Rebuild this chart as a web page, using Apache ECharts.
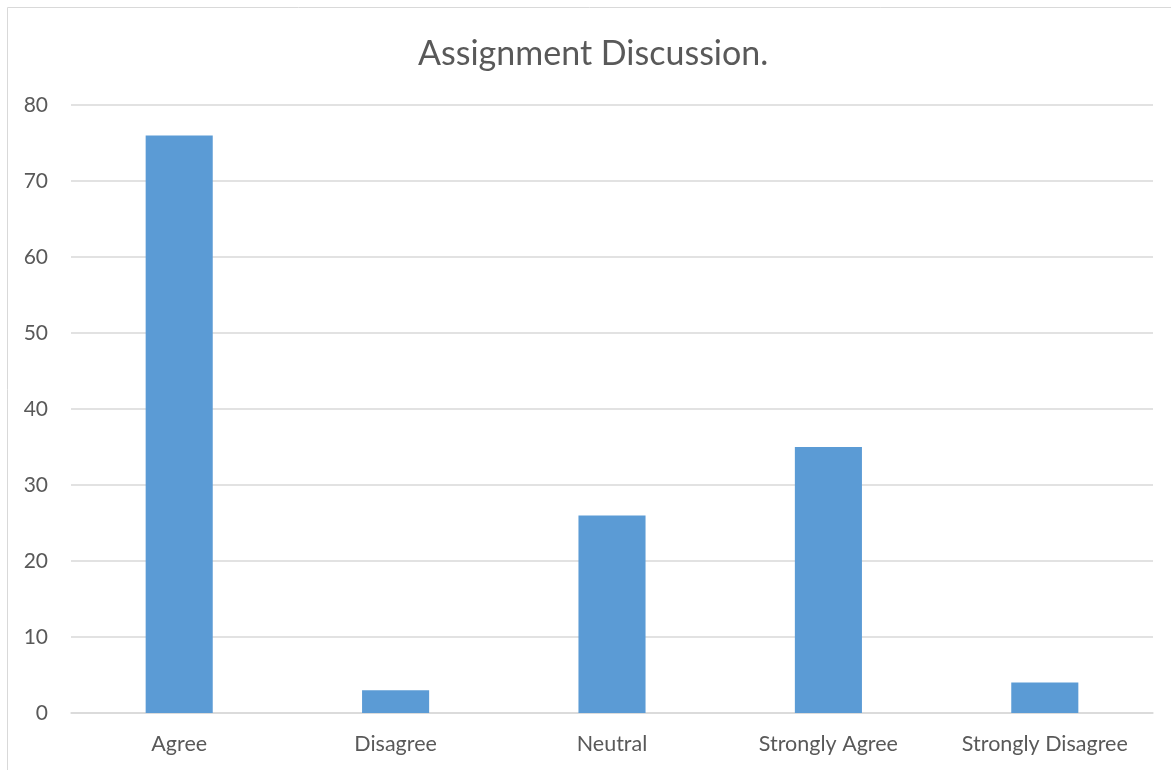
<!DOCTYPE html>
<html><head><meta charset="utf-8">
<script src="https://cdn.jsdelivr.net/npm/echarts@6/dist/echarts.min.js"></script>
<style>html,body{margin:0;padding:0;background:#fff}#c{width:1171px;height:770px}</style>
</head><body><div id="c"></div>
<script>
const categories = ["Agree", "Disagree", "Neutral", "Strongly Agree", "Strongly Disagree"];
const values = [76, 3, 26, 35, 4];
const yTicks = [0, 10, 20, 30, 40, 50, 60, 70, 80];
const chart = echarts.init(document.getElementById('c'));
const font = "Lato, 'Open Sans', sans-serif";
chart.setOption({
  animation: false,
  graphic: [{type:'rect', shape:{x:7.5,y:7.5,width:1200,height:800}, style:{fill:null, stroke:'#d9d9d9', lineWidth:1}, silent:true}],
  title: {text: 'Assignment Discussion.', left: 413, top: 32,
    textStyle: {fontFamily: font, fontSize: 34, fontWeight: 'normal', color: '#595959'}},
  grid: {left: 71, right: 18, top: 105, bottom: 57},
  xAxis: {type: 'category', data: categories,
    axisLine: {lineStyle: {color: '#d9d9d9', width: 1.5}}, axisTick: {show: false},
    axisLabel: {fontFamily: font, fontSize: 21.5, color: '#595959', margin: 20}},
  yAxis: {type: 'value', min: yTicks[0], max: yTicks[yTicks.length-1], interval: 10,
    axisLine: {show: false}, axisTick: {show: false},
    splitLine: {lineStyle: {color: '#d9d9d9', width: 1.5}},
    axisLabel: {fontFamily: font, fontSize: 21, color: '#595959', margin: 23}},
  series: [{type: 'bar', data: values, barWidth: '31%', itemStyle: {color: '#5B9BD5'}}]
});
</script></body></html>
